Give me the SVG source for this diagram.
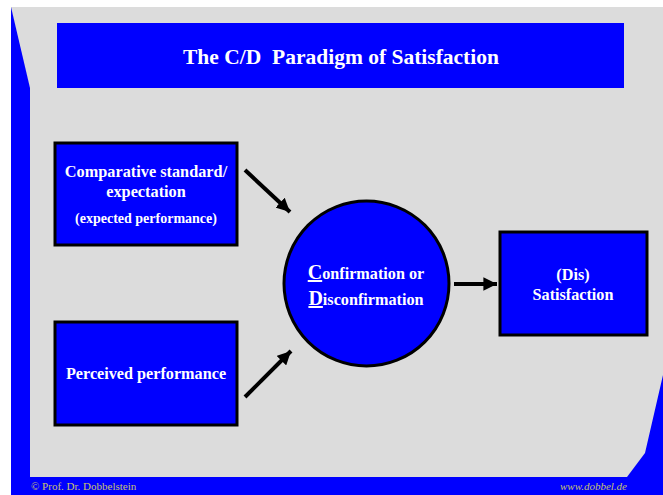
<svg xmlns="http://www.w3.org/2000/svg" width="663" height="495" viewBox="0 0 663 495">
<defs>
<style>
.bg{fill:#dcdcdc}
.deco{fill:#0000ff}
.box{fill:#0000ff;stroke:#000;stroke-width:3}
.t{font-family:"Liberation Serif","Times New Roman",serif;font-weight:bold;fill:#fff;text-anchor:middle}
.foot{font-family:"Liberation Serif","Times New Roman",serif;font-size:11px;fill:#c8c070}
.conn{stroke:#000;stroke-width:4;fill:none}
</style>
<marker id="ah" viewBox="0 0 10 10" refX="10" refY="5" markerWidth="3.4" markerHeight="3.4" markerUnits="strokeWidth" orient="auto">
<path d="M0,0 L10,5 L0,10 z" fill="#000"/>
</marker>
</defs>
<rect x="0" y="0" width="663" height="495" fill="#fff"/>
<rect class="bg" x="11" y="7" width="652" height="470"/>
<polygon class="deco" points="11,7 30,88 30,477 11,477"/>
<rect class="deco" x="11" y="477" width="652" height="18"/>
<polygon class="deco" points="663,375 645,453 627,477 663,477"/>
<g id="title">
<rect x="57" y="23" width="567" height="65" fill="#0000ff"/>
<text class="t" x="341" y="64" font-size="21.5" xml:space="preserve">The C/D  Paradigm of Satisfaction</text>
</g>
<g id="expectation">
<rect class="box" x="55" y="143" width="182" height="102"/>
<text class="t" x="146" y="177" font-size="16.3">Comparative standard/</text>
<text class="t" x="146" y="197" font-size="16.3">expectation</text>
<text class="t" x="146" y="223" font-size="14">(expected performance)</text>
</g>
<g id="perceived">
<rect class="box" x="55" y="322" width="182" height="103"/>
<text class="t" x="146" y="379" font-size="16.2">Perceived performance</text>
</g>
<g id="cd">
<circle class="box" cx="366.5" cy="283.5" r="82.5"/>
<text class="t" x="366" y="279" font-size="16.2"><tspan font-size="20" text-decoration="underline">C</tspan>onfirmation or</text>
<text class="t" x="366" y="305" font-size="16.2"><tspan font-size="20" text-decoration="underline">D</tspan>isconfirmation</text>
</g>
<g id="satisfaction">
<rect class="box" x="500" y="232" width="147" height="103"/>
<text class="t" x="573" y="280" font-size="16.2">(Dis)</text>
<text class="t" x="573" y="300" font-size="16.2">Satisfaction</text>
</g>
<g id="connectors">
<line class="conn" x1="245" y1="170" x2="290" y2="212" marker-end="url(#ah)"/>
<line class="conn" x1="245" y1="397" x2="291" y2="351" marker-end="url(#ah)"/>
<line class="conn" x1="454" y1="284" x2="497" y2="284" marker-end="url(#ah)"/>
</g>
<text class="foot" x="31" y="490">© Prof. Dr. Dobbelstein</text>
<text class="foot" x="627" y="490" text-anchor="end" font-style="italic">www.dobbel.de</text>
</svg>
